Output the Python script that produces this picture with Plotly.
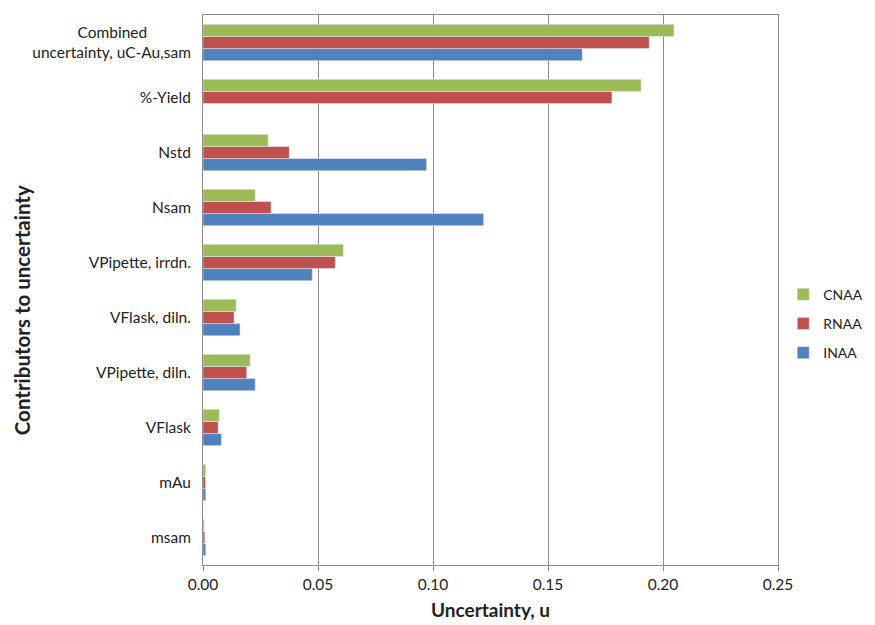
import plotly.graph_objects as go

# contributors, top to bottom as in the original chart
# (trailing no-break spaces centre the first line over the second, like the original)
contributors = [
    "Combined" + "\u00a0" * 11 + "<br>uncertainty, uC-Au,sam",
    "%-Yield",
    "Nstd",
    "Nsam",
    "VPipette, irrdn.",
    "VFlask, diln.",
    "VPipette, diln.",
    "VFlask",
    "mAu",
    "msam",
]

cnaa = [0.2048, 0.1905, 0.0283, 0.0227, 0.0610, 0.0144, 0.0205, 0.0071, 0.0012, 0.0005]
rnaa = [0.1940, 0.1778, 0.0375, 0.0296, 0.0575, 0.0135, 0.0190, 0.0066, 0.0011, 0.0008]
inaa = [0.1649, 0.0, 0.0972, 0.1220, 0.0475, 0.0161, 0.0227, 0.0080, 0.0012, 0.0012]

x_ticks = [0.0, 0.05, 0.10, 0.15, 0.20, 0.25]

fig = go.Figure()
fig.add_trace(go.Bar(y=contributors, x=inaa, name="INAA", orientation="h",
                     legendgroup="inaa", legendrank=3, marker=dict(color="#4F81BD")))
fig.add_trace(go.Bar(y=contributors, x=rnaa, name="RNAA", orientation="h",
                     legendgroup="rnaa", legendrank=2, marker=dict(color="#C0504D")))
fig.add_trace(go.Bar(y=contributors, x=cnaa, name="CNAA", orientation="h",
                     legendgroup="cnaa", legendrank=1, marker=dict(color="#9BBB59")))

# y title placed by hand: in the original it sits a bit below the middle
fig.add_annotation(text="<b>Contributors to uncertainty</b>", textangle=-90,
                   xref="paper", yref="paper", x=-0.315, y=0.463,
                   xanchor="center", yanchor="middle", showarrow=False,
                   font=dict(size=20.5))

fig.update_layout(
    width=875, height=625,
    barmode="group",
    bargap=0.34,
    bargroupgap=0,
    plot_bgcolor="white",
    paper_bgcolor="white",
    font=dict(family="Lato, Open Sans, sans-serif", size=15.5, color="#222222"),
    margin=dict(l=195, r=105, t=7, b=68),
    legend=dict(xref="container", yref="container", x=0.886, y=0.495,
                xanchor="left", yanchor="middle",
                traceorder="grouped", font=dict(size=14),
                itemwidth=30, tracegroupgap=8, bgcolor="rgba(0,0,0,0)"),
)
fig.update_xaxes(
    range=[0, 0.25], tickvals=x_ticks, tickformat=".2f",
    showgrid=True, gridcolor="#8c8c8c", gridwidth=1,
    showline=True, linecolor="#8c8c8c", mirror=True,
    ticks="outside", ticklen=5, tickcolor="#8c8c8c",
    title=dict(text="<b>Uncertainty, u</b>", font=dict(size=19), standoff=12),
    zeroline=False, automargin=False,
)
fig.update_yaxes(
    categoryorder="array", categoryarray=contributors[::-1],
    showline=True, linecolor="#8c8c8c", mirror=True,
    ticks="", ticklabelstandoff=8,
    automargin=False,
)

fig.write_html("out.html")
